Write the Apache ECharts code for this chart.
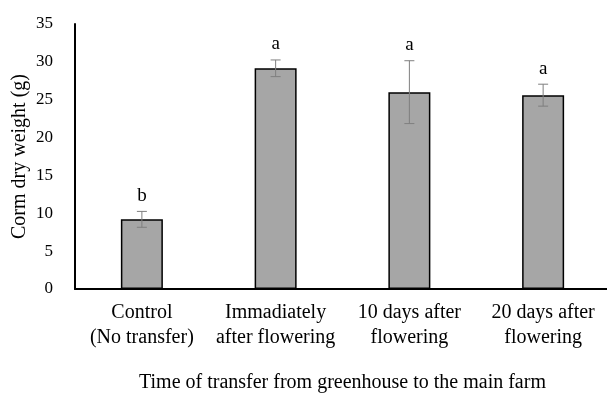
<!DOCTYPE html>
<html>
<head>
<meta charset="utf-8">
<script src="https://cdn.jsdelivr.net/npm/echarts@6/dist/echarts.min.js"></script>
<style>
  html, body { margin: 0; padding: 0; background: #fff; }
  #chart { width: 607px; height: 394px; }
</style>
</head>
<body>
<div id="chart"></div>
<script>
// data
const categories = ['Control\n(No transfer)', 'Immadiately\nafter flowering', '10 days after\nflowering', '20 days after\nflowering']
const meanWeight = [9.2, 29.15, 26.0, 25.6]
const errWeight = [1.05, 1.1, 4.15, 1.45]
const letters = ['b', 'a', 'a', 'a']

const serif = '"Liberation Serif", "DejaVu Serif", serif'

const chart = echarts.init(document.getElementById('chart'))

const errData = meanWeight.map((v, i) => [i, v - errWeight[i], v + errWeight[i]])

chart.setOption({
  backgroundColor: '#fff',
  animation: false,
  grid: {
    left: 75,
    top: 24,
    width: 535,
    height: 265,
    outerBoundsMode: 'none',
    containLabel: false
  },
  xAxis: {
    type: 'category',
    data: categories,
    name: 'Time of transfer from greenhouse to the main farm',
    nameLocation: 'middle',
    nameGap: 84,
    nameMoveOverlap: false,
    nameTextStyle: { color: '#000', fontSize: 20, fontFamily: serif },
    axisLine: { lineStyle: { color: '#000', width: 2 } },
    axisTick: { show: false },
    axisLabel: {
      color: '#000',
      fontSize: 20,
      fontFamily: serif,
      lineHeight: 25,
      margin: 11,
      interval: 0
    }
  },
  yAxis: {
    type: 'value',
    min: 0,
    max: 35,
    interval: 5,
    name: 'Corm dry weight (g)',
    nameLocation: 'middle',
    nameGap: 45,
    nameMoveOverlap: false,
    nameTextStyle: { color: '#000', fontSize: 20, fontFamily: serif },
    axisLine: { show: true, lineStyle: { color: '#000', width: 2 } },
    axisTick: { show: false },
    splitLine: { show: false },
    axisLabel: { color: '#000', fontSize: 17, fontFamily: serif, margin: 22 }
  },
  series: [
    {
      type: 'bar',
      data: meanWeight,
      barWidth: 42,
      itemStyle: {
        color: '#a6a6a6',
        borderColor: '#000',
        borderWidth: 1.5
      }
    },
    {
      type: 'custom',
      data: errData,
      z: 10,
      renderItem: (params, api) => {
        const x = api.value(0)
        const lo = api.coord([x, api.value(1)])
        const hi = api.coord([x, api.value(2)])
        const cap = 5
        const style = { stroke: '#7f7f7f', lineWidth: 1 }
        return {
          type: 'group',
          children: [
            { type: 'line', shape: { x1: hi[0], y1: hi[1], x2: lo[0], y2: lo[1] }, style },
            { type: 'line', shape: { x1: hi[0] - cap, y1: hi[1], x2: hi[0] + cap, y2: hi[1] }, style },
            { type: 'line', shape: { x1: lo[0] - cap, y1: lo[1], x2: lo[0] + cap, y2: lo[1] }, style },
            {
              type: 'text',
              x: hi[0],
              y: hi[1] - 6,
              style: {
                text: letters[params.dataIndex],
                fill: '#000',
                font: '19px ' + serif,
                align: 'center',
                verticalAlign: 'bottom'
              }
            }
          ]
        }
      }
    }
  ]
})
</script>
</body>
</html>
